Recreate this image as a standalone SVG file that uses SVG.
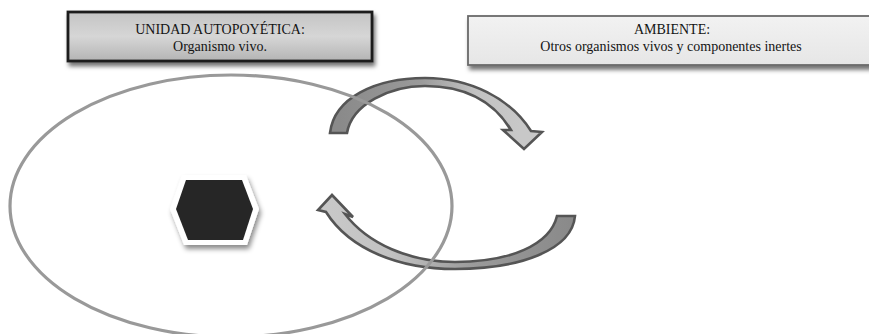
<svg xmlns="http://www.w3.org/2000/svg" width="869" height="334" viewBox="0 0 869 334">
<defs>
<style>
.t{font-family:"Liberation Serif","Times New Roman",serif;font-size:14px;fill:#141414;text-anchor:middle}
.arr{stroke:#555;stroke-width:2.6;stroke-linejoin:miter}
</style>
<linearGradient id="g1" x1="0" y1="0" x2="0" y2="1">
<stop offset="0" stop-color="#c4c4c4"/><stop offset="0.5" stop-color="#d6d6d6"/><stop offset="1" stop-color="#b4b4b4"/>
</linearGradient>
<linearGradient id="g2" x1="0" y1="0" x2="0" y2="1">
<stop offset="0" stop-color="#f2f2f2"/><stop offset="1" stop-color="#e6e6e6"/>
</linearGradient>
<linearGradient id="ga" gradientUnits="userSpaceOnUse" x1="340" y1="0" x2="520" y2="0">
<stop offset="0" stop-color="#8a8a8a"/><stop offset="0.45" stop-color="#9a9a9a"/><stop offset="0.75" stop-color="#c2c2c2"/><stop offset="1" stop-color="#c8c8c8"/>
</linearGradient>
<linearGradient id="gb" gradientUnits="userSpaceOnUse" x1="570" y1="0" x2="330" y2="0">
<stop offset="0" stop-color="#8a8a8a"/><stop offset="0.4" stop-color="#9a9a9a"/><stop offset="0.75" stop-color="#c2c2c2"/><stop offset="1" stop-color="#c8c8c8"/>
</linearGradient>
<filter id="sh" x="-10%" y="-30%" width="130%" height="180%">
<feDropShadow dx="2" dy="4" stdDeviation="2" flood-color="#000" flood-opacity="0.55"/>
</filter>
<filter id="sh2" x="-30%" y="-30%" width="170%" height="170%">
<feDropShadow dx="2" dy="4" stdDeviation="2.5" flood-color="#000" flood-opacity="0.45"/>
</filter>
</defs>
<rect width="869" height="334" fill="#fff"/>

<g id="unidad">
<rect x="68" y="12" width="304" height="49" fill="url(#g1)" stroke="#1e1e1e" stroke-width="2.8" filter="url(#sh)"/>
<text class="t" x="220" y="34">UNIDAD AUTOPOYÉTICA:</text>
<text class="t" x="220" y="51">Organismo vivo.</text>
</g>

<g id="ambiente">
<rect x="468" y="16" width="410" height="49" fill="url(#g2)" stroke="#6a6a6a" stroke-width="1.8" filter="url(#sh)"/>
<text class="t" x="672" y="34">AMBIENTE:</text>
<text class="t" x="671" y="51">Otros organismos vivos y componentes inertes</text>
</g>

<g id="connectors">
<path class="arr" fill="url(#ga)" d="M330 133 C334 98 375 78 425 78 C470 78 510 98 531 131 L542 132 L524 149 L503 130 L511 130 C494 102 465 86 425 86 C390 86 352 104 347 133 Z"/>
<path class="arr" fill="url(#gb)" d="M575 216 C572 250 520 269 455 269 C400 269 350 250 326 212 L318 210 L332 195 L353 217 L345 214 C368 244 410 262 455 262 C510 262 550 245 557 216 Z"/>
</g>

<g id="organismo">
<ellipse cx="231" cy="206" rx="221" ry="131" fill="none" stroke="#999" stroke-width="3.2"/>
</g>

<g id="hexagono">
<polygon points="182,175 246,175 259,209 247,245 184,245 170,209" fill="#fff" filter="url(#sh2)"/>
<polygon points="186,180 242,180 253,209 243,240 188,240 176,209" fill="#262626"/>
</g>
</svg>
